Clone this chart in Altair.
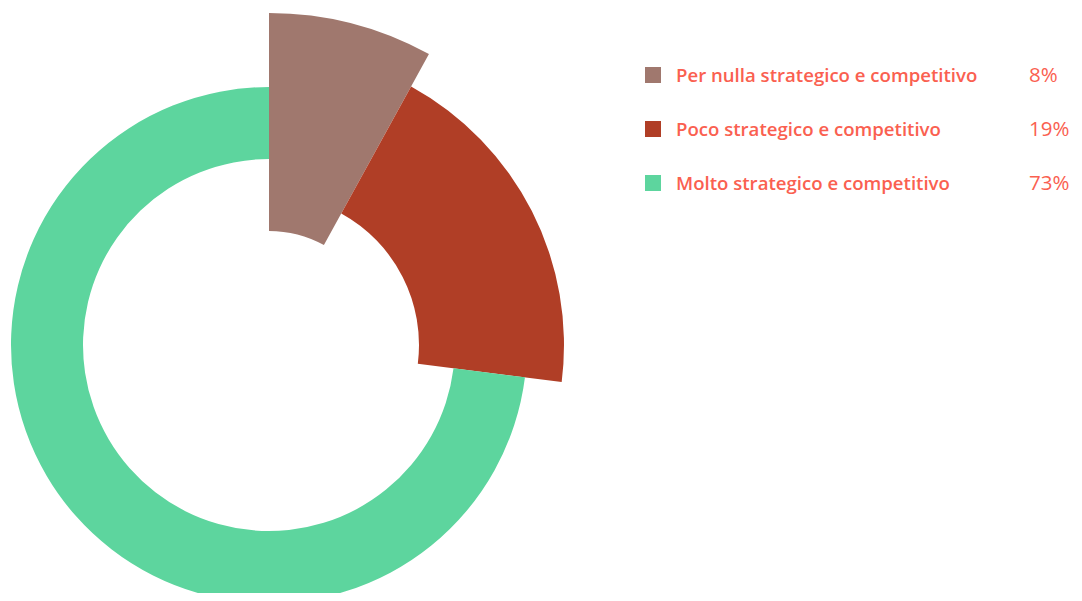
import altair as alt
import pandas as pd

categories = ["Per nulla strategico e competitivo", "Poco strategico e competitivo", "Molto strategico e competitivo"]
values = [8, 19, 73]
labels = ["8%", "19%", "73%"]
colors = ["#a0786e", "#b03e26", "#5dd59e"]

df = pd.DataFrame({"cat": categories, "value": values, "pct": labels, "idx": list(range(len(categories)))})

color = alt.Color("cat:N", scale=alt.Scale(domain=categories, range=colors), legend=None)
tscale = alt.Scale(domain=[0, 100], range=[0, 6.283185307179586])

arc = alt.Chart(df).transform_window(
    cum="sum(value)", sort=[alt.SortField("idx")]
).transform_calculate(
    start="datum.cum - datum.value",
    r_out="332 - 37*datum.idx", r_in="114 + 36*datum.idx"
).mark_arc(stroke=None).encode(
    theta=alt.Theta("start:Q", scale=tscale, stack=False),
    theta2="cum:Q",
    radius=alt.Radius("r_out:Q", scale=None),
    radius2="r_in:Q",
    color=color,
    x=alt.value(261),
    y=alt.value(337),
)

yenc = alt.Y("cat:N", scale=alt.Scale(type="point", domain=categories, range=[67, 175], padding=0), axis=None)

squares = alt.Chart(df).mark_square(size=256, opacity=1, shape="square").encode(
    x=alt.value(645), y=yenc, color=color
)
names = alt.Chart(df).mark_text(
    align="left", baseline="middle", font="Open Sans", fontSize=18.6, fontWeight=600, color="#fa6050", dy=1
).encode(x=alt.value(668), y=yenc, text="cat:N")
pcts = alt.Chart(df).mark_text(
    align="left", baseline="middle", font="Open Sans", fontSize=20.5, color="#fa6050", dy=1
).encode(x=alt.value(1021), y=yenc, text="pct:N")

chart = alt.layer(arc, squares, names, pcts).properties(
    width=1066, height=585, autosize=alt.AutoSizeParams(type="none"), padding=0
).configure_view(stroke=None)

chart.save("out.html", embed_options={"renderer": "svg", "actions": False})
